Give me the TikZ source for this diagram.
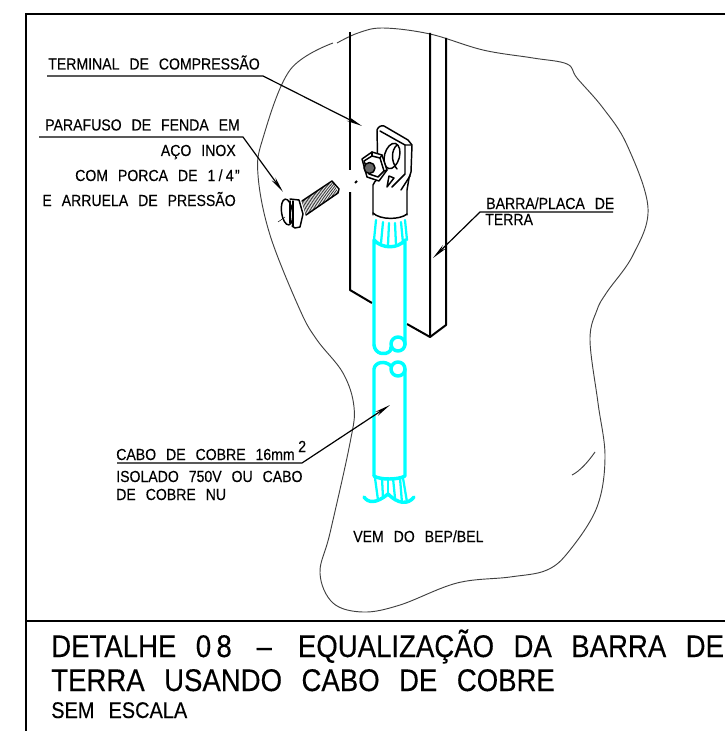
\documentclass[tikz,border=0pt]{standalone}
\usepackage{fontspec}
\usepackage{xcolor}
\usepackage{tikz}
\usetikzlibrary{arrows.meta,calc}
\setmainfont[FakeStretch=0.88,FakeBold=0.25]{Liberation Sans}
\definecolor{black}{RGB}{0,0,0}
\definecolor{cabo}{RGB}{0,255,255}
\newcommand{\cadsize}[1]{\fontsize{#1}{#1}\selectfont\spaceskip=.62em\relax}
\tikzset{
  frameline/.style={black, line width=2.2pt},
  barline/.style={black, line width=1.5pt, line join=round},
  outline/.style={black!75, line width=0.7pt},
  lugline/.style={black, line width=1.1pt, line join=round, line cap=round},
  threadline/.style={black, line width=0.35pt},
  caboline/.style={cabo, line width=2.6pt, line join=round, line cap=round},
  strandline/.style={cabo, line width=1.7pt, line cap=round},
  leader/.style={black, line width=0.9pt, -{Stealth[length=12pt, width=3.5pt]}},
  small/.style={inner sep=0pt, font=\cadsize{12}},
  title/.style={inner sep=0pt, font=\cadsize{23.5}},
  sub/.style={inner sep=0pt, font=\cadsize{17}}
}
\begin{document}
\begin{tikzpicture}[x=0.75pt, y=-0.75pt]
        \useasboundingbox (0,0) rectangle (725,731);

        % frame
        \draw[frameline] (725,14) -- (26,14) -- (26,731);
        \draw[frameline] (26,621) -- (725,621);

        % background outline
        \draw[outline] plot[smooth, tension=0.6] coordinates {(337,43) (358,33) (383,28) (430,34) (483,50) (533,58) (567,64) (577,78) (603,108) (627,145) (648,208) (633,255) (607,292) (597,310) (590,340) (598,403) (605,457) (597,507) (570,550) (547,570) (510,577) (457,583) (400,605) (363,612) (333,603) (320,573) (330,533) (350,443) (354,407) (343,373) (317,340) (300,310) (270,235) (258,175) (263,138) (290,70) (333,43)};
        \draw[outline] (572,475) .. controls (580,471) and (588,462) .. (595,452);

        % bar
        \draw[barline] (350,32) -- (350,170);
        \draw[barline] (350,192) -- (350,290) -- (372,303);
        \draw[barline] (430,33) -- (430,337) -- (407,324);
        \draw[barline] (446,38) -- (446,325) -- (430,337);
        \draw[barline] (355,183) -- (357,181);

        % lug
        \draw[lugline] (373,215) -- (373,185) .. controls (375,180) and (378,180) .. (378,178) -- (377,130) .. controls (378,127) and (381,125) .. (384,126) -- (408,140) -- (412,145) -- (411,172) -- (409,178) -- (407,190) -- (407,215);
        \draw[lugline] (380,131) -- (405,145) -- (411,145);
        \draw[lugline] (405,145) -- (405,174) -- (392,187);
        \draw[lugline] (410,176) -- (401,190);
        \draw[lugline, rotate around={-15:(392,156)}] (392,156) ellipse (7.5 and 13);
        \draw[lugline] (397,145) .. controls (391,150) and (391,162) .. (397,169);
        \draw[lugline] (387,187) -- (389,176) -- (394,178) -- cycle;
        \draw[lugline] (373,213) .. controls (380,220) and (400,220) .. (407,214);

        % nut
        \draw[lugline, fill=white] (362,159) -- (372,152) -- (382,155) -- (387,170) -- (379,181) -- (367,177) -- cycle;
        \draw[lugline] (364,161) -- (372,156) -- (380,158) -- (384,171) -- (378,177) -- (369,174) -- cycle;
        \draw[lugline, fill=black!60] (369.5,168) circle (5.5);
        \draw[lugline] (372,152) -- (372,156);
        \draw[lugline] (382,155) -- (380,158);
        \draw[lugline] (387,170) -- (384,171);

        % screw
        \foreach \t in {0,0.04,...,1.0} {
            \draw[threadline] ($(302,201)!\t!(332,182)$) -- ($(306,215)!\t!(338,193)$);
        }
        \draw[lugline] (302,201) -- (332,181) -- (339,189) -- (338,193) -- (306,215);
        \draw[lugline, rotate around={8:(287,212)}] (287,212) ellipse (5.5 and 13);
        \draw[lugline] (290,199) -- (299,200) -- (303,214) -- (300,227) -- (295,228) -- (292,226);
        \draw[lugline] (290,201) -- (290,223);
        \draw[lugline] (293,201) -- (293,226);
        \draw[threadline] (278,222) -- (285,217);

        % cable top
        \draw[strandline] (376,220) -- (374,240);
        \draw[strandline] (383,222) -- (381,243);
        \draw[strandline] (389,223) -- (388,245);
        \draw[strandline] (395,223) -- (396,245);
        \draw[strandline] (401,222) -- (403,243);
        \draw[strandline] (405,220) -- (407,240);
        \draw[caboline] (374,345) -- (374,240) .. controls (382,249) and (398,249) .. (405,240) -- (405,345);
        \draw[caboline] (374,345) .. controls (375,354) and (385,356) .. (390,351) .. controls (391,350) and (391,349) .. (391,347);
        \draw[caboline] (398,344) circle (7);

        % cable bottom
        \draw[caboline] (374,476) -- (374,369) .. controls (375,362) and (385,360) .. (391,366);
        \draw[caboline] (398,369) circle (7);
        \draw[caboline] (405,369) -- (405,476) .. controls (398,480) and (380,480) .. (374,476);
        \draw[caboline] (364,497) .. controls (368,503) and (376,504) .. (388,494) .. controls (398,504) and (408,505) .. (414,497);
        \draw[strandline] (375,478) -- (378,500);
        \draw[strandline] (382,478) -- (383,498);
        \draw[strandline] (388,478) -- (388,494);
        \draw[strandline] (393,478) -- (395,498);
        \draw[strandline] (400,478) -- (402,503);
        \draw[strandline] (403,478) -- (407,502);

        % labels
        \node[small, anchor=base west] (terminal) at (48,69.5) {TERMINAL DE COMPRESSÃO};
        \node[small, anchor=base west] (parafuso) at (45,130.5) {PARAFUSO DE FENDA EM};
        \node[small, anchor=base east] (inox) at (236,156) {AÇO INOX};
        \node[small, anchor=base east] (porca) at (240,181) {COM PORCA DE 1\kern2.5pt/\kern2.5pt4\kern1pt"};
        \node[small, anchor=base east] (arruela) at (236,206) {E ARRUELA DE PRESSÃO};
        \node[small, anchor=base west] (barra) at (486,209) {BARRA/PLACA DE};
        \node[small, anchor=base west] (terra) at (485,225) {TERRA};
        \node[small, anchor=base west] (cabo) at (116,460) {CABO DE COBRE 16mm};
        \node[small, anchor=base west] (expoente) at (298,452) {2};
        \node[small, anchor=base west] (isolado) at (116,482) {ISOLADO 750V OU CABO};
        \node[small, anchor=base west] (nu) at (116,500) {DE COBRE NU};
        \node[small, anchor=base west] (vem) at (353,542) {VEM DO BEP/BEL};
        \node[title, anchor=base west] (detalhe) at (51,657) {DETALHE 0\kern4pt8\kern4pt\ --\kern5pt\ EQUALIZAÇÃO DA BARRA DE};
        \node[title, anchor=base west] (usando) at (51,691) {TERRA USANDO CABO DE COBRE};
        \node[sub, anchor=base west] (escala) at (51,718) {SEM ESCALA};

        % leaders
        \coordinate (terminalleft) at (47,76);
        \coordinate (terminalknee) at (263,76);
        \coordinate (terminaltip) at (362,126);
        \coordinate (parafusoleft) at (39,137);
        \coordinate (parafusoknee) at (243,137);
        \coordinate (parafusotip) at (283,192);
        \coordinate (barraright) at (613,212);
        \coordinate (barraknee) at (480,212);
        \coordinate (barratip) at (433,258);
        \coordinate (caboleft) at (117,463);
        \coordinate (caboknee) at (302,463);
        \coordinate (cabotip) at (390,405);
        \draw[leader] (terminalleft) -- (terminalknee) -- (terminaltip);
        \draw[leader] (parafusoleft) -- (parafusoknee) -- (parafusotip);
        \draw[leader] (barraright) -- (barraknee) -- (barratip);
        \draw[leader] (caboleft) -- (caboknee) -- (cabotip);

\end{tikzpicture}
\end{document}
